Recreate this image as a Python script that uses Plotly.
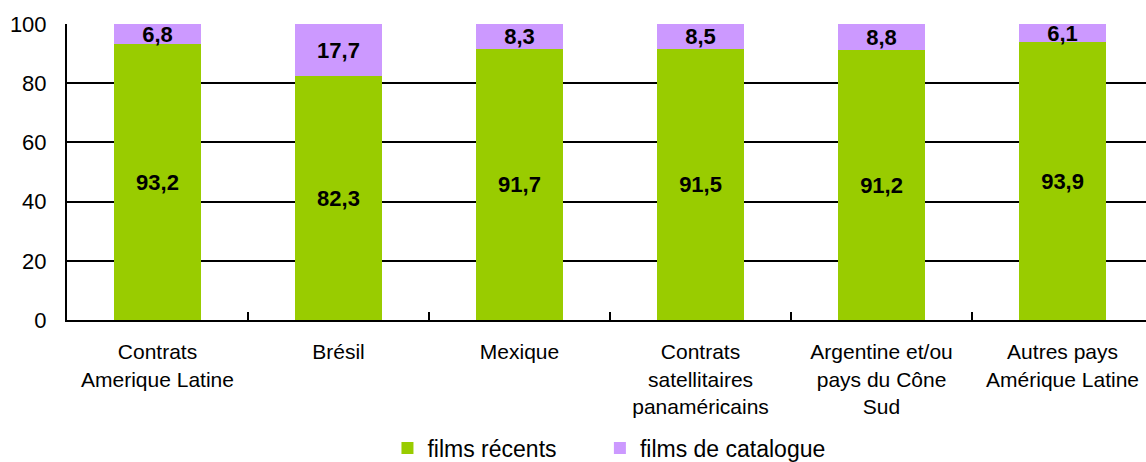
import plotly.graph_objects as go

categories = [
    "Contrats<br>Amerique Latine",
    "Brésil",
    "Mexique",
    "Contrats<br>satellitaires<br>panaméricains",
    "Argentine et/ou<br>pays du Cône<br>Sud",
    "Autres pays<br>Amérique Latine",
]
recents = [93.2, 82.3, 91.7, 91.5, 91.2, 93.9]
catalogue = [6.8, 17.7, 8.3, 8.5, 8.8, 6.1]
y_ticks = [0, 20, 40, 60, 80, 100]
series_names = ["films récents", "films de catalogue"]

FONT = "Liberation Sans, Arial, sans-serif"
PAD = "\u00a0" * 6

def fmt(vals):
    return [f"{v:.1f}".replace(".", ",") for v in vals]

fig = go.Figure()
fig.add_trace(go.Bar(
    x=categories, y=recents, name=series_names[0] + PAD,
    marker=dict(color="#99CC00", line=dict(width=0)),
    text=fmt(recents), textposition="inside", insidetextanchor="middle",
    textangle=0, constraintext="none",
    textfont=dict(family=FONT, size=22, color="black", weight="bold"),
    width=0.48,
))
fig.add_trace(go.Bar(
    x=categories, y=catalogue, name=series_names[1],
    marker=dict(color="#CC99FF", line=dict(width=0)),
    text=fmt(catalogue), textposition="inside", insidetextanchor="middle",
    textangle=0, constraintext="none",
    textfont=dict(family=FONT, size=22, color="black", weight="bold"),
    width=0.48,
))

fig.update_layout(
    barmode="stack",
    width=1146, height=462,
    margin=dict(l=67, r=0, t=24, b=142, autoexpand=False),
    paper_bgcolor="white", plot_bgcolor="white",
    font=dict(family=FONT, color="black"),
    showlegend=True,
    legend=dict(
        orientation="h", x=0.297, xanchor="left", y=-0.36, yanchor="top",
        font=dict(family=FONT, size=23, color="black"),
        traceorder="normal", itemwidth=30,
    ),
    xaxis=dict(
        type="category", range=[-0.5, 5.461], automargin=False,
        showline=True, linecolor="black", linewidth=2,
        ticks="inside", tickson="boundaries", ticklen=8, tickwidth=2, tickcolor="black",
        tickfont=dict(family=FONT, size=21, color="black"),
        ticklabelstandoff=12,
        showgrid=False,
    ),
    yaxis=dict(
        range=[0, 100], tickvals=y_ticks, automargin=False,
        showline=True, linecolor="black", linewidth=2,
        showgrid=True, gridcolor="black", gridwidth=2,
        zeroline=False,
        ticks="", ticklabelstandoff=14,
        tickfont=dict(family=FONT, size=22, color="black"),
    ),
)

fig.write_html("out.html")
